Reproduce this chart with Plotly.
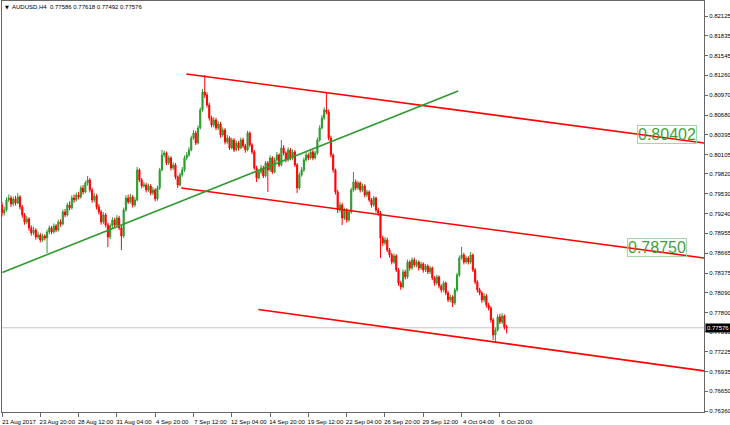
import plotly.graph_objects as go

# ---------------- data ----------------
symbol_title = "AUDUSD,H4"
last_ohlc = ["0.77586", "0.77618", "0.77492", "0.77576"]

opens = [
    0.79368, 0.79251, 0.79295, 0.79441, 0.79470, 0.79383, 0.79456, 0.79397, 0.79485, 0.79339,
    0.79222, 0.79120, 0.79164, 0.79033, 0.78960, 0.79003, 0.78901, 0.78930, 0.78857, 0.78916,
    0.78887, 0.78974, 0.79033, 0.78974, 0.79062, 0.79003, 0.79120, 0.79091, 0.79266, 0.79222,
    0.79368, 0.79324, 0.79470, 0.79441, 0.79514, 0.79485, 0.79616, 0.79558, 0.79689, 0.79733,
    0.79587, 0.79441, 0.79499, 0.79339, 0.79266, 0.79120, 0.79222, 0.79076, 0.78901, 0.79062,
    0.79149, 0.79076, 0.79178, 0.79033, 0.78916, 0.79295, 0.79470, 0.79412, 0.79485, 0.79368,
    0.79441, 0.79879, 0.79733, 0.79645, 0.79660, 0.79587, 0.79645, 0.79543, 0.79587, 0.79456,
    0.79616, 0.79879, 0.80098, 0.80127, 0.79981, 0.80054, 0.79908, 0.79952, 0.79777, 0.79660,
    0.79806, 0.79879, 0.80054, 0.80098, 0.80171, 0.80346, 0.80419, 0.80273, 0.80492, 0.80754,
    0.81017, 0.80973, 0.80827, 0.80637, 0.80535, 0.80608, 0.80492, 0.80550, 0.80389, 0.80462,
    0.80287, 0.80346, 0.80200, 0.80316, 0.80171, 0.80273, 0.80200, 0.80316, 0.80229, 0.80171,
    0.80419, 0.80244, 0.80141, 0.79908, 0.79762, 0.79850, 0.79908, 0.79791, 0.79981, 0.79879,
    0.80054, 0.79850, 0.80025, 0.80098, 0.79952, 0.80200, 0.80127, 0.80025, 0.80171, 0.80054,
    0.80141, 0.79952, 0.79616, 0.79806, 0.79879, 0.80025, 0.80098, 0.80054, 0.80141, 0.80054,
    0.80127, 0.80316, 0.80492, 0.80637, 0.80754, 0.80725, 0.80346, 0.80098, 0.79879, 0.79558,
    0.79295, 0.79368, 0.79178, 0.79295, 0.79149, 0.79266, 0.79587, 0.79704, 0.79616, 0.79689,
    0.79587, 0.79645, 0.79514, 0.79558, 0.79441, 0.79368, 0.79470, 0.79295, 0.79251, 0.78887,
    0.78814, 0.78857, 0.78711, 0.78639, 0.78536, 0.78624, 0.78420, 0.78230, 0.78172, 0.78391,
    0.78318, 0.78536, 0.78449, 0.78566, 0.78493, 0.78536, 0.78449, 0.78507, 0.78420, 0.78478,
    0.78391, 0.78449, 0.78303, 0.78230, 0.78318, 0.78187, 0.78128, 0.78230, 0.78084, 0.77982,
    0.78026, 0.77938, 0.78128, 0.78347, 0.78595, 0.78639, 0.78536, 0.78595, 0.78536, 0.78639,
    0.78420, 0.78245, 0.78128, 0.78084, 0.77982, 0.78040, 0.77909, 0.77865, 0.77690, 0.77471,
    0.77544, 0.77734, 0.77661, 0.77748, 0.77586,
]

highs = [
    0.79410, 0.79340, 0.79480, 0.79520, 0.79505, 0.79490, 0.79500, 0.79540, 0.79510, 0.79370,
    0.79250, 0.79210, 0.79190, 0.79070, 0.79050, 0.79030, 0.78980, 0.78960, 0.78950, 0.78940,
    0.79010, 0.79070, 0.79060, 0.79100, 0.79090, 0.79150, 0.79160, 0.79300, 0.79310, 0.79400,
    0.79420, 0.79510, 0.79520, 0.79550, 0.79560, 0.79650, 0.79660, 0.79720, 0.79791, 0.79760,
    0.79620, 0.79540, 0.79530, 0.79380, 0.79300, 0.79260, 0.79250, 0.79110, 0.79100, 0.79190,
    0.79180, 0.79220, 0.79210, 0.79060, 0.79330, 0.79510, 0.79520, 0.79530, 0.79510, 0.79480,
    0.79922, 0.79900, 0.79760, 0.79700, 0.79690, 0.79680, 0.79670, 0.79630, 0.79610, 0.79650,
    0.79910, 0.80171, 0.80160, 0.80150, 0.80090, 0.80080, 0.79990, 0.79980, 0.79800, 0.79840,
    0.79920, 0.80090, 0.80140, 0.80210, 0.80380, 0.80460, 0.80450, 0.80530, 0.80790, 0.81060,
    0.81264, 0.81010, 0.80860, 0.80670, 0.80650, 0.80640, 0.80590, 0.80580, 0.80500, 0.80490,
    0.80390, 0.80370, 0.80350, 0.80340, 0.80310, 0.80300, 0.80350, 0.80350, 0.80260, 0.80450,
    0.80440, 0.80270, 0.80170, 0.79940, 0.79890, 0.79950, 0.79940, 0.80010, 0.80010, 0.80090,
    0.80080, 0.80060, 0.80140, 0.80120, 0.80316, 0.80240, 0.80150, 0.80210, 0.80200, 0.80180,
    0.80170, 0.79980, 0.79840, 0.79920, 0.80060, 0.80140, 0.80130, 0.80180, 0.80170, 0.80160,
    0.80350, 0.80530, 0.80680, 0.80790, 0.81017, 0.80760, 0.80380, 0.80120, 0.79900, 0.79590,
    0.79410, 0.79400, 0.79330, 0.79320, 0.79300, 0.79620, 0.79850, 0.79740, 0.79720, 0.79710,
    0.79680, 0.79670, 0.79590, 0.79580, 0.79470, 0.79500, 0.79490, 0.79330, 0.79280, 0.78920,
    0.78900, 0.78890, 0.78740, 0.78670, 0.78660, 0.78650, 0.78450, 0.78260, 0.78430, 0.78420,
    0.78570, 0.78560, 0.78600, 0.78600, 0.78570, 0.78560, 0.78540, 0.78530, 0.78510, 0.78500,
    0.78480, 0.78470, 0.78330, 0.78350, 0.78340, 0.78210, 0.78260, 0.78250, 0.78110, 0.78060,
    0.78050, 0.78160, 0.78380, 0.78630, 0.78755, 0.78670, 0.78630, 0.78620, 0.78680, 0.78660,
    0.78450, 0.78270, 0.78160, 0.78110, 0.78080, 0.78070, 0.77940, 0.77890, 0.77720, 0.77580,
    0.77770, 0.77780, 0.77790, 0.77770, 0.77618,
]

lows = [
    0.79200, 0.79215, 0.79270, 0.79410, 0.79340, 0.79350, 0.79360, 0.79380, 0.79300, 0.79180,
    0.79080, 0.79090, 0.78990, 0.78920, 0.78930, 0.78860, 0.78870, 0.78820, 0.78830, 0.78850,
    0.78667, 0.78940, 0.78940, 0.78950, 0.78970, 0.78980, 0.79050, 0.79070, 0.79190, 0.79200,
    0.79290, 0.79300, 0.79400, 0.79420, 0.79450, 0.79460, 0.79520, 0.79540, 0.79650, 0.79550,
    0.79400, 0.79410, 0.79300, 0.79230, 0.79080, 0.79090, 0.79040, 0.78755, 0.78870, 0.79030,
    0.79040, 0.79050, 0.79000, 0.78711, 0.78890, 0.79270, 0.79380, 0.79390, 0.79330, 0.79340,
    0.79420, 0.79700, 0.79610, 0.79620, 0.79550, 0.79560, 0.79510, 0.79510, 0.79420, 0.79430,
    0.79590, 0.79860, 0.80060, 0.79950, 0.79950, 0.79870, 0.79880, 0.79740, 0.79616, 0.79640,
    0.79780, 0.79850, 0.80020, 0.80070, 0.80150, 0.80320, 0.80240, 0.80250, 0.80470, 0.80730,
    0.80930, 0.80790, 0.80600, 0.80500, 0.80500, 0.80460, 0.80460, 0.80350, 0.80360, 0.80250,
    0.80260, 0.80170, 0.80180, 0.80140, 0.80150, 0.80160, 0.80180, 0.80200, 0.80130, 0.80150,
    0.80210, 0.80110, 0.79880, 0.79704, 0.79740, 0.79820, 0.79760, 0.79770, 0.79558, 0.79850,
    0.79820, 0.79830, 0.80000, 0.79920, 0.79930, 0.80090, 0.79990, 0.80000, 0.80020, 0.80020,
    0.79920, 0.79543, 0.79590, 0.79780, 0.79850, 0.80000, 0.80020, 0.80030, 0.80020, 0.80030,
    0.80100, 0.80290, 0.80470, 0.80610, 0.80690, 0.80310, 0.80060, 0.79840, 0.79520, 0.79250,
    0.79260, 0.79076, 0.79150, 0.79110, 0.79120, 0.79240, 0.79560, 0.79580, 0.79590, 0.79550,
    0.79560, 0.79480, 0.79480, 0.79410, 0.79330, 0.79340, 0.79260, 0.79210, 0.78595, 0.78770,
    0.78780, 0.78680, 0.78600, 0.78500, 0.78510, 0.78390, 0.78190, 0.78130, 0.78150, 0.78280,
    0.78290, 0.78410, 0.78420, 0.78460, 0.78460, 0.78410, 0.78420, 0.78380, 0.78390, 0.78360,
    0.78360, 0.78270, 0.78190, 0.78200, 0.78150, 0.78090, 0.78100, 0.78050, 0.77950, 0.77950,
    0.77880, 0.77910, 0.78100, 0.78320, 0.78570, 0.78500, 0.78510, 0.78500, 0.78510, 0.78390,
    0.78210, 0.78090, 0.78050, 0.77940, 0.77950, 0.77870, 0.77830, 0.77650, 0.77398, 0.77354,
    0.77520, 0.77630, 0.77630, 0.77550, 0.77492,
]

closes = [
    0.79251, 0.79295, 0.79441, 0.79470, 0.79383, 0.79456, 0.79397, 0.79485, 0.79339, 0.79222,
    0.79120, 0.79164, 0.79033, 0.78960, 0.79003, 0.78901, 0.78930, 0.78857, 0.78916, 0.78887,
    0.78974, 0.79033, 0.78974, 0.79062, 0.79003, 0.79120, 0.79091, 0.79266, 0.79222, 0.79368,
    0.79324, 0.79470, 0.79441, 0.79514, 0.79485, 0.79616, 0.79558, 0.79689, 0.79733, 0.79587,
    0.79441, 0.79499, 0.79339, 0.79266, 0.79120, 0.79222, 0.79076, 0.78901, 0.79062, 0.79149,
    0.79076, 0.79178, 0.79033, 0.78916, 0.79295, 0.79470, 0.79412, 0.79485, 0.79368, 0.79441,
    0.79879, 0.79733, 0.79645, 0.79660, 0.79587, 0.79645, 0.79543, 0.79587, 0.79456, 0.79616,
    0.79879, 0.80098, 0.80127, 0.79981, 0.80054, 0.79908, 0.79952, 0.79777, 0.79660, 0.79806,
    0.79879, 0.80054, 0.80098, 0.80171, 0.80346, 0.80419, 0.80273, 0.80492, 0.80754, 0.81017,
    0.80973, 0.80827, 0.80637, 0.80535, 0.80608, 0.80492, 0.80550, 0.80389, 0.80462, 0.80287,
    0.80346, 0.80200, 0.80316, 0.80171, 0.80273, 0.80200, 0.80316, 0.80229, 0.80171, 0.80419,
    0.80244, 0.80141, 0.79908, 0.79762, 0.79850, 0.79908, 0.79791, 0.79981, 0.79879, 0.80054,
    0.79850, 0.80025, 0.80098, 0.79952, 0.80200, 0.80127, 0.80025, 0.80171, 0.80054, 0.80141,
    0.79952, 0.79616, 0.79806, 0.79879, 0.80025, 0.80098, 0.80054, 0.80141, 0.80054, 0.80127,
    0.80316, 0.80492, 0.80637, 0.80754, 0.80725, 0.80346, 0.80098, 0.79879, 0.79558, 0.79295,
    0.79368, 0.79178, 0.79295, 0.79149, 0.79266, 0.79587, 0.79704, 0.79616, 0.79689, 0.79587,
    0.79645, 0.79514, 0.79558, 0.79441, 0.79368, 0.79470, 0.79295, 0.79251, 0.78887, 0.78814,
    0.78857, 0.78711, 0.78639, 0.78536, 0.78624, 0.78420, 0.78230, 0.78172, 0.78391, 0.78318,
    0.78536, 0.78449, 0.78566, 0.78493, 0.78536, 0.78449, 0.78507, 0.78420, 0.78478, 0.78391,
    0.78449, 0.78303, 0.78230, 0.78318, 0.78187, 0.78128, 0.78230, 0.78084, 0.77982, 0.78026,
    0.77938, 0.78128, 0.78347, 0.78595, 0.78639, 0.78536, 0.78595, 0.78536, 0.78639, 0.78420,
    0.78245, 0.78128, 0.78084, 0.77982, 0.78040, 0.77909, 0.77865, 0.77690, 0.77471, 0.77544,
    0.77734, 0.77661, 0.77748, 0.77586, 0.77576,
]

# time-axis labels (bar index of each label)
tick_bars = [0, 17, 34, 51, 68, 85, 102, 119, 136, 153, 170, 187, 204, 221]
tick_labels = ["21 Aug 2017", "23 Aug 20:00", "28 Aug 12:00", "31 Aug 04:00", "4 Sep 20:00",
               "7 Sep 12:00", "12 Sep 04:00", "14 Sep 20:00", "19 Sep 12:00", "22 Sep 04:00",
               "26 Sep 20:00", "29 Sep 12:00", "4 Oct 04:00", "6 Oct 20:00"]

# price-axis labels
price_ticks = [0.82125, 0.81835, 0.81545, 0.81260, 0.80970, 0.80680, 0.80395, 0.80105,
               0.79820, 0.79530, 0.79240, 0.78955, 0.78665, 0.78375, 0.78090, 0.77800,
               0.77515, 0.77225, 0.76935, 0.76650, 0.76360]

# trend lines: (bar index start, bar index end), (price start, price end)
upper_line_bars = [81.8, 311.7]
upper_line_prices = [0.81279, 0.80272]
middle_line_bars = [79.6, 311.7]
middle_line_prices = [0.79616, 0.78594]
lower_line_bars = [113.8, 311.7]
lower_line_prices = [0.77843, 0.76946]
green_line_bars = [0.13, 202.5]
green_line_prices = [0.78383, 0.81031]

# price labels on lines (bar index of label, price)
line_label_bars = [282.0, 277.5]
line_label_prices = [0.80402, 0.78750]

x_range = [0.0, 311.6]
y_range = [0.76347, 0.82344]

# ---------------- figure ----------------
RED = "#ff0000"
GREEN = "#2e9a2e"
bars = list(range(len(closes)))

fig = go.Figure()

fig.add_trace(go.Candlestick(
    x=bars, open=opens, high=highs, low=lows, close=closes,
    increasing=dict(line=dict(color=GREEN, width=1), fillcolor=GREEN),
    decreasing=dict(line=dict(color=RED, width=1), fillcolor=RED),
    whiskerwidth=0, hoverinfo="skip",
))

for bx, py, col in [(upper_line_bars, upper_line_prices, RED),
                    (middle_line_bars, middle_line_prices, RED),
                    (lower_line_bars, lower_line_prices, RED),
                    (green_line_bars, green_line_prices, GREEN)]:
    fig.add_trace(go.Scatter(x=bx, y=py, mode="lines", cliponaxis=True,
                             line=dict(color=col, width=1.6), hoverinfo="skip"))

# current price line
fig.add_shape(type="line", xref="paper", x0=0, x1=1, y0=closes[-1], y1=closes[-1],
              line=dict(color="#c8c8c8", width=1), layer="below")

annotations = []
for bx, pv in zip(line_label_bars, line_label_prices):
    annotations.append(dict(
        x=bx, y=pv, xref="x", yref="y", text=f"{pv:.5f}", showarrow=False,
        xanchor="left", yanchor="middle",
        font=dict(family="Liberation Sans", size=16, color="#3f9f3f"),
        bordercolor="#a3d6a3", borderwidth=1, borderpad=0,
    ))

annotations.append(dict(
    x=1, y=closes[-1], xref="paper", yref="y", text=f"{closes[-1]:.5f}",
    showarrow=False, xanchor="left", yanchor="middle", xshift=1,
    bgcolor="#000000", font=dict(family="Liberation Sans", size=6, color="#ffffff"),
    borderpad=1,
))
annotations.append(dict(
    x=0, y=1, xref="paper", yref="paper", text="▼", showarrow=False,
    xanchor="left", yanchor="top", xshift=1, yshift=-1,
    font=dict(family="DejaVu Sans", size=5, color="#000000"),
))
annotations.append(dict(
    x=0, y=1, xref="paper", yref="paper",
    text=symbol_title + "  " + " ".join(last_ohlc), showarrow=False,
    xanchor="left", yanchor="top", xshift=8, yshift=-1,
    font=dict(family="Liberation Sans", size=6, color="#000000"),
))

fig.update_layout(
    width=730, height=425,
    margin=dict(l=2, r=26, t=1, b=13, autoexpand=False),
    paper_bgcolor="white", plot_bgcolor="white",
    showlegend=False,
    annotations=annotations,
    xaxis=dict(
        range=x_range, rangeslider=dict(visible=False), automargin=False,
        tickmode="array", tickvals=tick_bars, ticktext=tick_labels, tickangle=0,
        ticks="outside", ticklen=4, tickcolor="#666666", tickwidth=1,
        tickfont=dict(family="Liberation Sans", size=6, color="#000000"),
        ticklabelshift=17, ticklabelstandoff=0, ticklabeloverflow="allow",
        showgrid=False, zeroline=False,
        showline=True, linecolor="#666666", linewidth=1, mirror=True,
    ),
    yaxis=dict(
        range=y_range, side="right", automargin=False,
        tickmode="array", tickvals=price_ticks,
        ticktext=[f"{v:.5f}" for v in price_ticks],
        ticks="outside", ticklen=3, tickcolor="#666666", tickwidth=1,
        tickfont=dict(family="Liberation Sans", size=6, color="#000000"),
        ticklabelstandoff=0, ticklabeloverflow="allow",
        showgrid=False, zeroline=False,
        showline=True, linecolor="#666666", linewidth=1, mirror=True,
    ),
)

fig.write_html(
    "out.html",
    config={"displayModeBar": False},
    post_script="document.body.style.margin='0';document.body.style.overflow='hidden';",
)
